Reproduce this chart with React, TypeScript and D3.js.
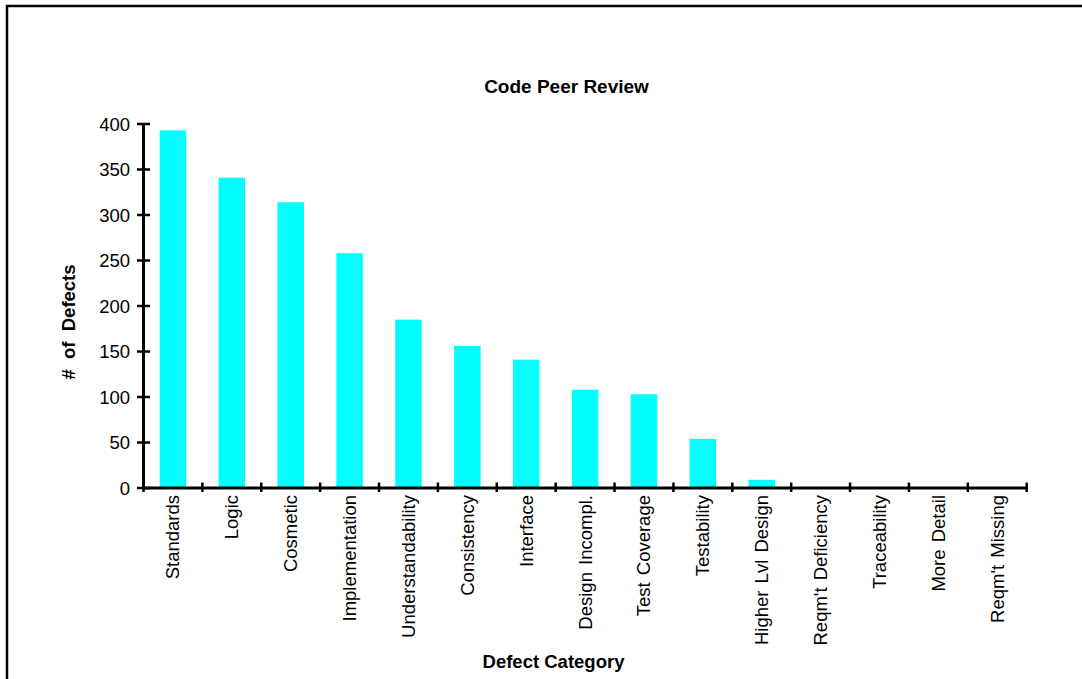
import * as d3 from 'd3'

const categories = [
  'Standards',
  'Logic',
  'Cosmetic',
  'Implementation',
  'Understandability',
  'Consistency',
  'Interface',
  'Design Incompl.',
  'Test Coverage',
  'Testability',
  'Higher Lvl Design',
  "Reqm't Deficiency",
  'Traceability',
  'More Detail',
  "Reqm't Missing",
]
const defects = [393, 341, 314, 258, 185, 156, 141, 108, 103, 54, 9, 0, 0, 0, 0]
const yTicks = [0, 50, 100, 150, 200, 250, 300, 350, 400]

const width = 1082
const height = 679
const font = 'Arial, "Liberation Sans", Helvetica, sans-serif'

const App = () => {
  const x = d3
    .scaleBand<string>()
    .domain(categories)
    .range([143.5, 1026.7])
    .paddingInner(0.55)
    .paddingOuter(0.275)
  const y = d3.scaleLinear().domain([0, 400]).range([488, 124])

  const gap = (x.step() - x.bandwidth()) / 2
  const bounds = categories.map(c => (x(c) ?? 0) - gap)
  bounds.push(x.range()[1])

  return (
    <svg
      width={width}
      height={height}
      style={{ position: 'absolute', left: 0, top: 0, background: '#fff' }}
      fontFamily={font}
    >
      <rect x={7} y={6} width={width + 20} height={height + 20} fill="#fff" stroke="#000" strokeWidth={2.5} />

      <text x={566.5} y={93} textAnchor="middle" fontWeight="bold" fontSize={19}>
        Code Peer Review
      </text>

      {categories.map((c, i) => (
        <rect
          key={c}
          x={x(c)}
          y={y(defects[i])}
          width={x.bandwidth()}
          height={y(0) - y(defects[i])}
          fill="#00ffff"
        />
      ))}

      {/* y axis */}
      <line x1={143.5} x2={143.5} y1={y(400)} y2={y(0)} stroke="#000" strokeWidth={3} />
      {yTicks.map(t => (
        <g key={t}>
          <line x1={137} x2={150} y1={y(t)} y2={y(t)} stroke="#000" strokeWidth={2.5} />
          <text x={130} y={y(t)} textAnchor="end" dominantBaseline="central" fontSize={18.5}>
            {t}
          </text>
        </g>
      ))}

      {/* x axis */}
      <line x1={142} x2={x.range()[1]} y1={y(0)} y2={y(0)} stroke="#000" strokeWidth={3} />
      {bounds.map((b, i) => (
        <line key={i} x1={b} x2={b} y1={y(0) - 5.5} y2={y(0) + 4} stroke="#000" strokeWidth={2.5} />
      ))}
      {categories.map(c => {
        const cx = (x(c) ?? 0) + x.bandwidth() / 2
        return (
          <text
            key={c}
            transform={`translate(${cx},495) rotate(-90)`}
            textAnchor="end"
            dominantBaseline="central"
            fontSize={18.5}
            wordSpacing={2}
          >
            {c}
          </text>
        )
      })}

      <text
        transform="translate(75,322) rotate(-90)"
        textAnchor="middle"
        fontWeight="bold"
        fontSize={18.5}
        style={{ whiteSpace: 'pre' }}
      >
        {'#  of  Defects'}
      </text>

      <text x={553.5} y={668} textAnchor="middle" fontWeight="bold" fontSize={18.5}>
        Defect Category
      </text>
    </svg>
  )
}

export default App
